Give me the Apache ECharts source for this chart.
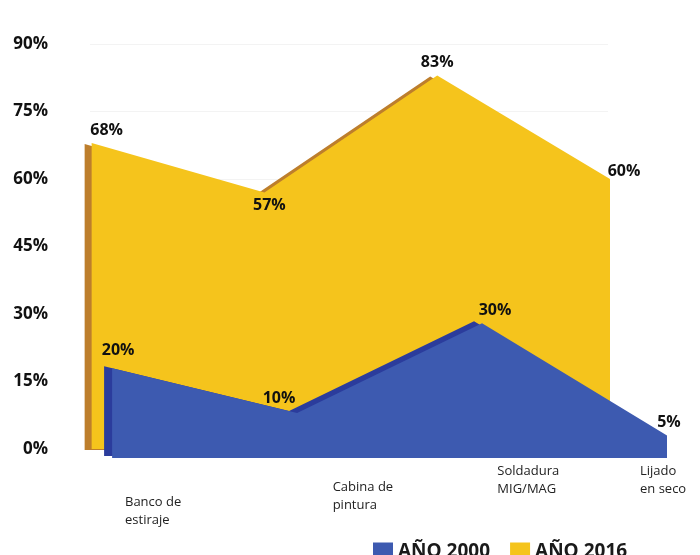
<!DOCTYPE html>
<html>
<head>
<meta charset="utf-8">
<script src="https://cdn.jsdelivr.net/npm/echarts@6/dist/echarts.min.js"></script>
<style>
  html, body { margin: 0; padding: 0; background: #fff; }
  #chart { width: 700px; height: 555px; }
</style>
</head>
<body>
<div id="chart"></div>
<script>
// datos
var categorias = ['Banco de\nestiraje', 'Cabina de\npintura', 'Soldadura\nMIG/MAG', 'Lijado\nen seco']
var valores2000 = [20, 10, 30, 5]
var valores2016 = [68, 57, 83, 60]
var ejeY = { min: 0, max: 90, interval: 15 }

// estilos de etiquetas (posicion de cada etiqueta respecto a su punto)
var pos2016 = ['top', 'bottom', 'top', 'top']
var off2016 = [[15, 0], [5, 0], [0, 0], [14, 5]]
var pos2000 = ['top', 'top', 'top', 'top']
var off2000 = [[6, -5], [-18, -2], [13, 0], [2, 0]]
// desplazamiento de las etiquetas de categoria [dy, dx]
var despCat = [[31, 35], [16, 70], [0, 62], [0, 32]]

var chart = echarts.init(document.getElementById('chart'))

var rich = {}
despCat.forEach(function (d, i) {
  rich['s' + i] = { fontSize: 1, lineHeight: d[0], padding: [0, 0, 0, d[1]] }
  rich['c' + i] = { padding: [0, 0, 0, d[1]], fontSize: 13, lineHeight: 18, color: '#222', fontFamily: 'Open Sans' }
})

var etiquetaDatos = {
  show: true,
  formatter: function (p) { return p.value[1] + '%' },
  fontFamily: 'Open Sans',
  fontWeight: 'bold',
  fontSize: 16,
  color: '#111',
  distance: 5
}

// eje x por indice (deja un margen a la izquierda para el canto 3D)
function ejeIndice(grid, min) {
  return { gridIndex: grid, type: 'value', min: min, max: categorias.length - 1, show: false }
}

chart.setOption({
  backgroundColor: '#fff',
  animation: false,
  legend: {
    data: ['AÑO 2000', 'AÑO 2016'],
    left: 368,
    top: 537,
    icon: 'rect',
    itemWidth: 20,
    itemHeight: 18,
    itemGap: 20,
    textStyle: {
      fontFamily: 'Open Sans',
      fontWeight: 'bold',
      fontSize: 19,
      color: '#1a1a1a'
    }
  },
  grid: [
    { left: 90, right: 92, top: 44, bottom: 106 },
    { left: 83, right: 90, top: 44, bottom: 106 },
    { left: 101, right: 33, top: 54, bottom: 97 }
  ],
  xAxis: [{
    gridIndex: 0,
    type: 'category',
    boundaryGap: false,
    data: categorias,
    axisLine: { show: false },
    axisTick: { show: false },
    axisLabel: {
      interval: 0,
      align: 'left',
      verticalAlign: 'top',
      margin: 13,
      formatter: function (v, i) {
        var l = v.split('\n')
        var s = despCat[i][0] > 0 ? '{s' + i + '| }\n' : ''
        return s + '{c' + i + '|' + l[0] + '}\n{c' + i + '|' + l[1] + '}'
      },
      rich: rich
    }
  },
    ejeIndice(1, -0.05),
    ejeIndice(2, -0.06)
  ],
  yAxis: [{
    gridIndex: 0,
    type: 'value',
    min: ejeY.min,
    max: ejeY.max,
    interval: ejeY.interval,
    axisLine: { show: false },
    axisTick: { show: false },
    axisLabel: {
      formatter: '{value}%',
      margin: 42,
      fontFamily: 'Open Sans',
      fontWeight: 'bold',
      fontSize: 17,
      color: '#111'
    },
    splitLine: { lineStyle: { color: '#f3f3f3' } }
  }, {
    gridIndex: 1, type: 'value', min: ejeY.min, max: ejeY.max, show: false
  }, {
    gridIndex: 2, type: 'value', min: ejeY.min, max: ejeY.max, show: false
  }],
  series: [{
    name: 'AÑO 2016',
    type: 'line',
    xAxisIndex: 1,
    yAxisIndex: 1,
    clip: false,
    symbol: 'circle',
    symbolSize: 0.01,
    showSymbol: true,
    color: '#f5c41c',
    lineStyle: { width: 0 },
    areaStyle: {
      color: '#f5c41c',
      opacity: 1,
      shadowColor: '#bd7e2c',
      shadowBlur: 0,
      shadowOffsetX: -7,
      shadowOffsetY: 1
    },
    label: etiquetaDatos,
    data: valores2016.map(function (v, i) {
      return { value: [i, v], label: { position: pos2016[i], offset: off2016[i] } }
    })
  }, {
    name: 'AÑO 2000',
    type: 'line',
    xAxisIndex: 2,
    yAxisIndex: 2,
    clip: false,
    symbol: 'circle',
    symbolSize: 0.01,
    showSymbol: true,
    color: '#3d5ab0',
    lineStyle: { width: 0 },
    areaStyle: {
      color: '#3d5ab0',
      opacity: 1,
      shadowColor: '#2b3c9c',
      shadowBlur: 0,
      shadowOffsetX: -8,
      shadowOffsetY: -2
    },
    label: etiquetaDatos,
    data: valores2000.map(function (v, i) {
      return { value: [i, v], label: { position: pos2000[i], offset: off2000[i] } }
    })
  }]
})
</script>
</body>
</html>
